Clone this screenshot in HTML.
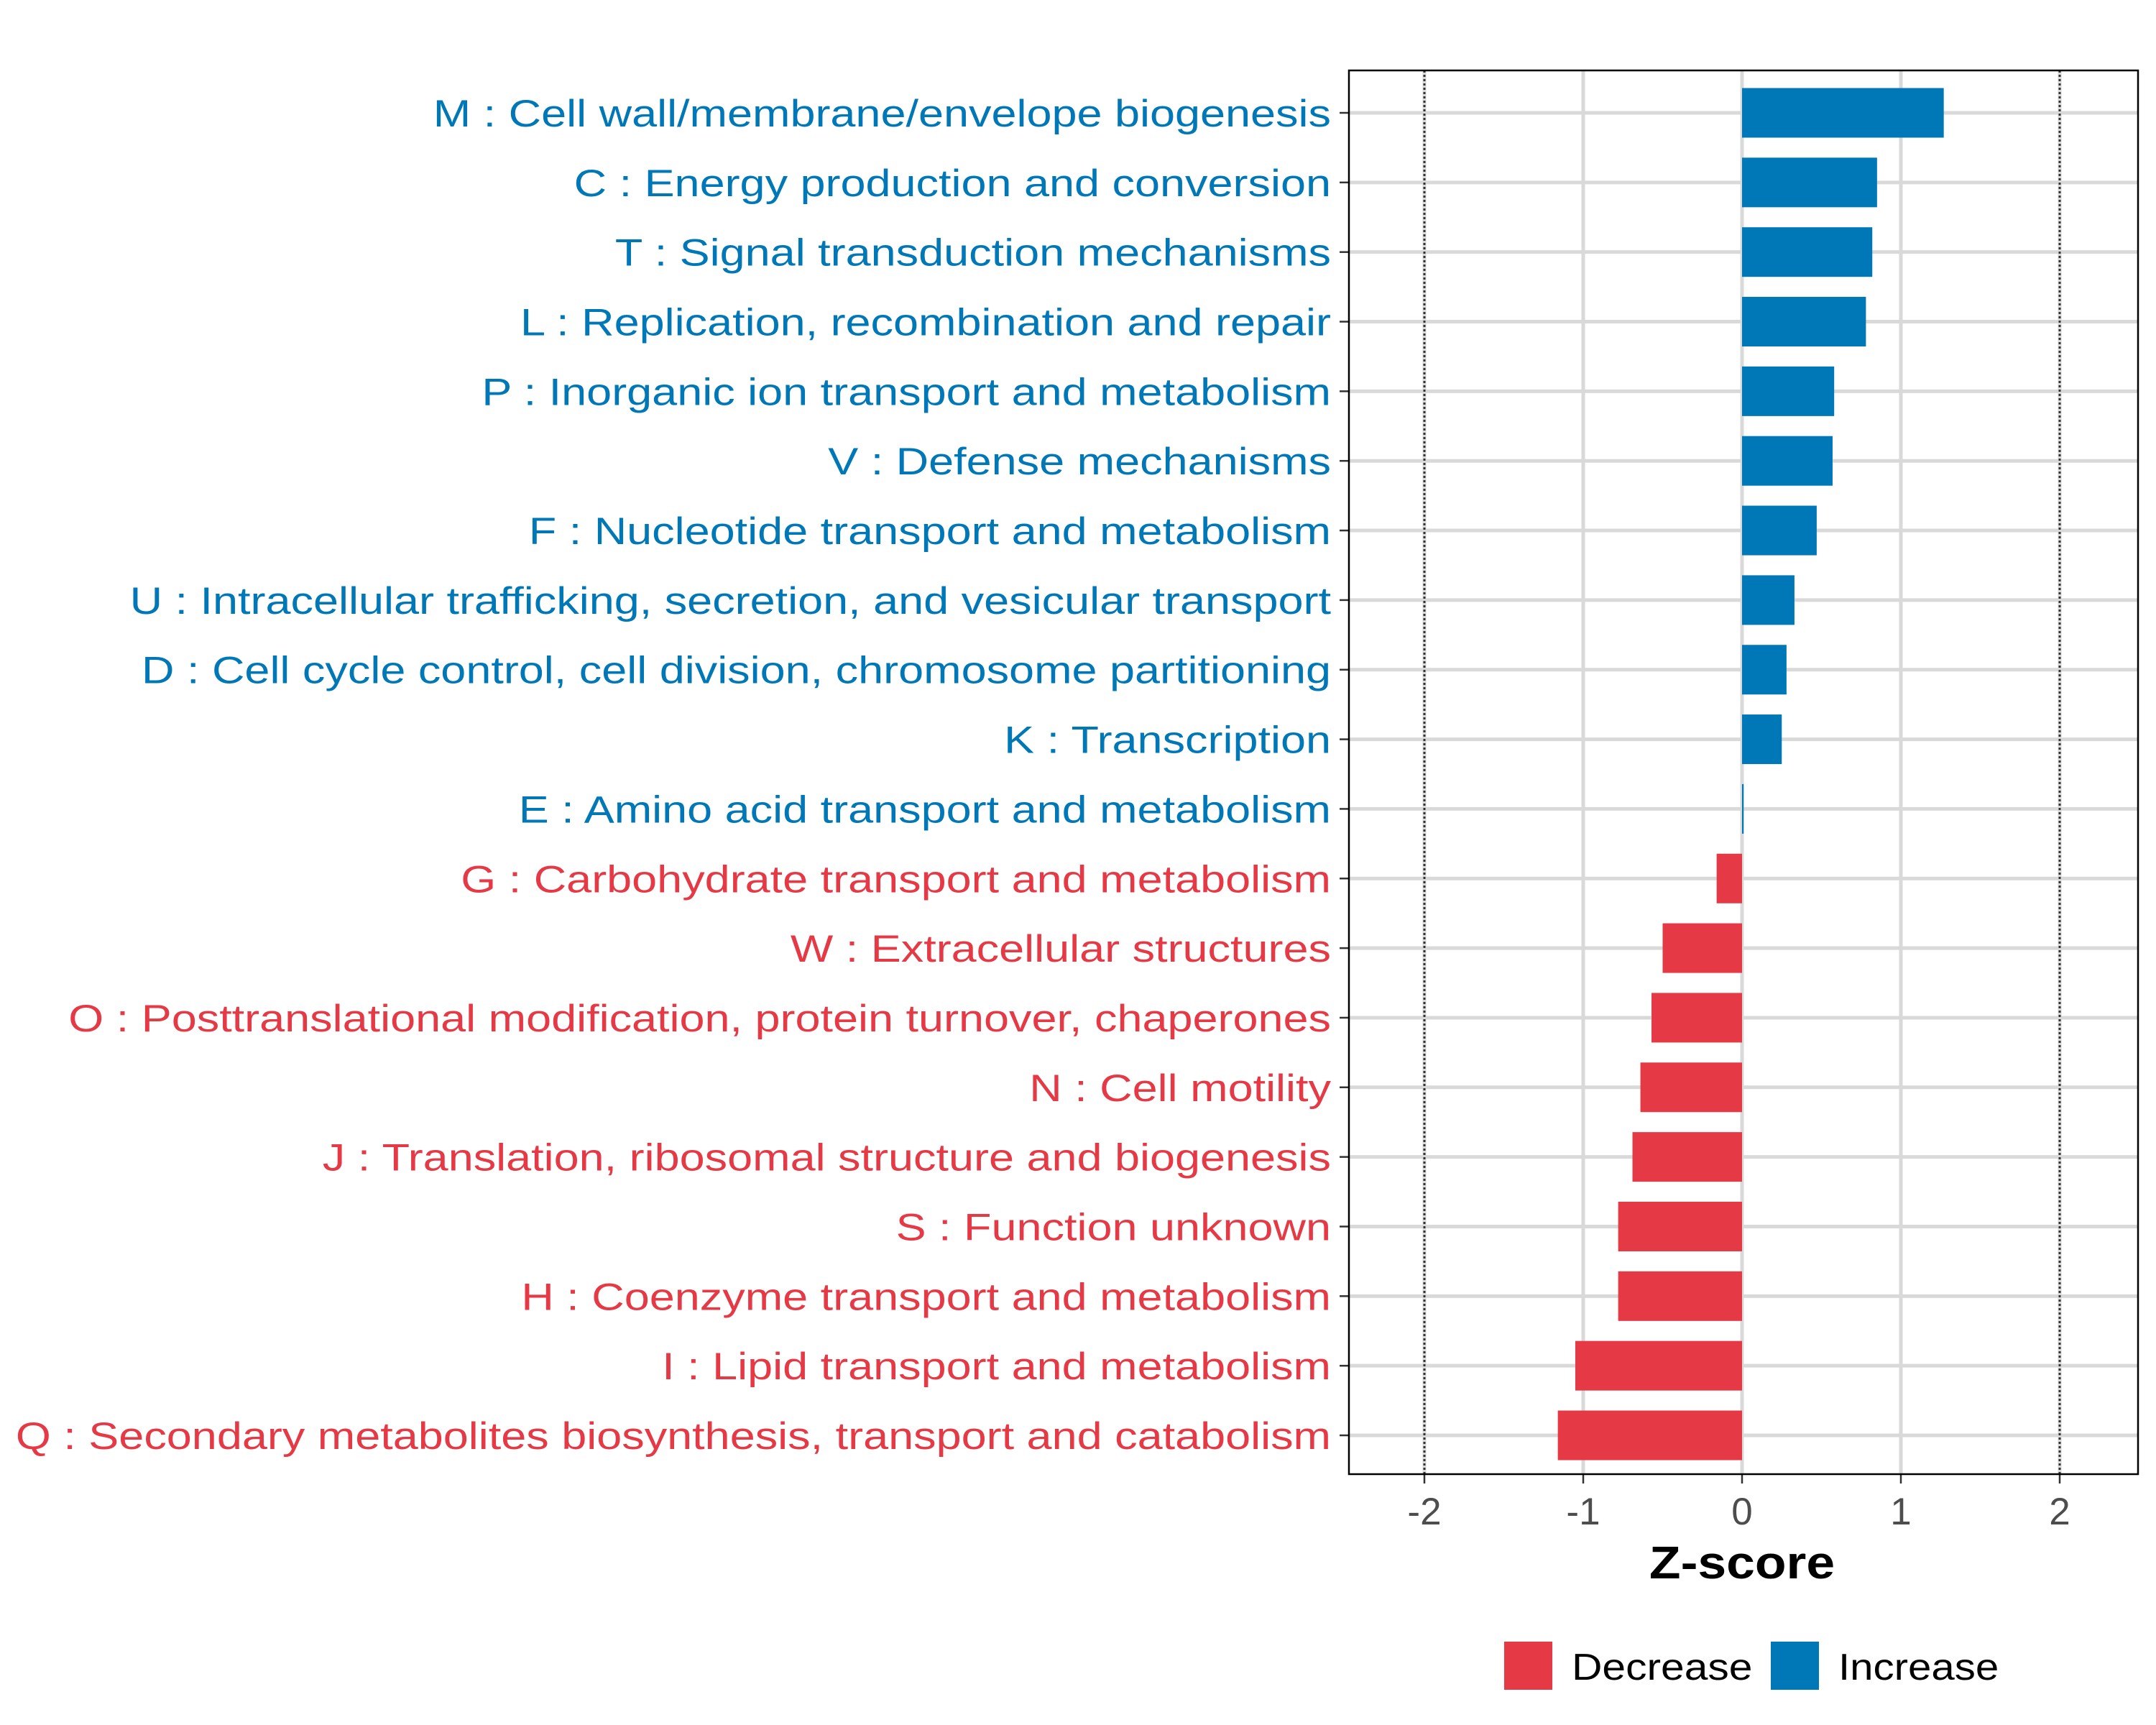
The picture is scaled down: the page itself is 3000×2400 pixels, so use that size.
<!DOCTYPE html>
<html><head><meta charset="utf-8">
<style>
html,body{margin:0;padding:0;background:#fff;}
svg{display:block;font-family:"Liberation Sans",Arial,sans-serif;}
</style></head>
<body>
<svg id="chart" width="3000" height="2400" viewBox="0 0 3000 2400" xmlns="http://www.w3.org/2000/svg">
<rect x="0" y="0" width="3000" height="2400" fill="#fff"/>
<g id="grid"></g>
<g id="bars"></g>
<g id="ylabels"></g>
<g id="xaxis"></g>
<rect x="1877" y="98" width="1098" height="1953" fill="none" stroke="#000" stroke-width="2.5"/>
<text transform="translate(2424,2196) scale(1.117,1)" text-anchor="middle" font-size="64" font-weight="bold">Z-score</text>
<g>
  <rect x="2093" y="2284" width="67" height="67" fill="#E63946"/>
  <text transform="translate(2187,2337) scale(1.13,1)" font-size="52">Decrease</text>
  <rect x="2464" y="2284" width="67" height="67" fill="#0077B6"/>
  <text transform="translate(2558,2337) scale(1.12,1)" font-size="52">Increase</text>
</g>
</svg>
<script>
const categories = ["M : Cell wall/membrane/envelope biogenesis","C : Energy production and conversion","T : Signal transduction mechanisms","L : Replication, recombination and repair","P : Inorganic ion transport and metabolism","V : Defense mechanisms","F : Nucleotide transport and metabolism","U : Intracellular trafficking, secretion, and vesicular transport","D : Cell cycle control, cell division, chromosome partitioning","K : Transcription","E : Amino acid transport and metabolism","G : Carbohydrate transport and metabolism","W : Extracellular structures","O : Posttranslational modification, protein turnover, chaperones","N : Cell motility","J : Translation, ribosomal structure and biogenesis","S : Function unknown","H : Coenzyme transport and metabolism","I : Lipid transport and metabolism","Q : Secondary metabolites biosynthesis, transport and catabolism"];
const zscores = [1.27,0.85,0.82,0.78,0.58,0.57,0.47,0.33,0.28,0.25,0.01,-0.16,-0.50,-0.57,-0.64,-0.69,-0.78,-0.78,-1.05,-1.16];
const xTicks = [-2,-1,0,1,2];
const xTickLabels = ["-2","-1","0","1","2"];
const dashedLines = [-2,2];

const NS="http://www.w3.org/2000/svg";
const X0=2424, UNIT=221, Y0=157, STEP=(1997-157)/19, BH=69;
const PL=1877, PR=2975, PT=98, PB=2051;
const xs=v=>X0+v*UNIT, ys=i=>Y0+i*STEP;
const BLUE="#0077B6", RED="#E63946";
function mk(tag,attrs,parent){const e=document.createElementNS(NS,tag);for(const k in attrs)e.setAttribute(k,attrs[k]);parent.appendChild(e);return e;}
const grid=document.getElementById('grid'),bars=document.getElementById('bars'),yl=document.getElementById('ylabels'),xa=document.getElementById('xaxis');
categories.forEach((c,i)=>{
  const l=mk('line',{x1:PL,x2:PR,y1:ys(i),y2:ys(i),stroke:"#D9D9D9","stroke-width":5},grid);
  
  
});
xTicks.forEach(v=>{
  const l=mk('line',{x1:xs(v),x2:xs(v),y1:PT,y2:PB,stroke:"#D9D9D9","stroke-width":5},grid);
  
  
});
dashedLines.forEach(v=>{
  const l=mk('line',{x1:xs(v),x2:xs(v),y1:PT,y2:PB,stroke:"#333","stroke-width":3,"stroke-dasharray":"3,3"},grid);
  
  
});
categories.forEach((c,i)=>{
  const v=zscores[i], col=v>=0?BLUE:RED;
  const r=mk('rect',{x:Math.min(xs(0),xs(v)),y:ys(i)-BH/2,width:Math.max(Math.abs(xs(v)-xs(0)),2),height:BH,fill:col},bars);
  
  
  const t=mk('line',{x1:PL-13,x2:PL,y1:ys(i),y2:ys(i),stroke:"#333","stroke-width":2.5},yl);
  
  
  const tx=mk('text',{x:0,y:0,transform:"translate(1852,"+(ys(i)+19)+") scale(1.188,1)","text-anchor":"end","font-size":53,fill:col},yl);
  tx.textContent=c;
  
  
});
xTicks.forEach((v,i)=>{
  const t=mk('line',{x1:xs(v),x2:xs(v),y1:PB,y2:PB+13,stroke:"#333","stroke-width":2.5},xa);
  
  
  const tx=mk('text',{x:xs(v),y:2121,"text-anchor":"middle","font-size":53,fill:"#4D4D4D"},xa);
  tx.textContent=xTickLabels[i];
  
  
});
</script>
</body></html>
